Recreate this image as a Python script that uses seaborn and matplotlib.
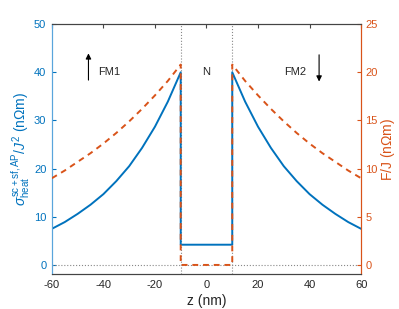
import pandas as pd
import matplotlib
matplotlib.use("Agg")
import matplotlib.pyplot as plt
import seaborn as sns

# valores (distancia desde la interfaz, nm)
dist = [0, 5, 10, 15, 20, 25, 30, 35, 40, 45, 50]
sigma_fm = [40.0, 33.9, 28.7, 24.3, 20.5, 17.4, 14.7, 12.5, 10.6, 8.9, 7.5]   # eje izquierdo
f_fm = [20.8, 19.1, 17.6, 16.2, 14.9, 13.7, 12.6, 11.6, 10.7, 9.8, 9.0]       # eje derecho
sigma_n = 4.2
f_n = 0.0
z_int = 10

# construir las curvas completas
z_left = [-(z_int + d) for d in dist][::-1]
z_right = [z_int + d for d in dist]
z = z_left + [-z_int, z_int] + z_right
sigma = sigma_fm[::-1] + [sigma_n, sigma_n] + sigma_fm
f = f_fm[::-1] + [f_n, f_n] + f_fm

df = pd.DataFrame({"z": z, "sigma": sigma, "F": f})

azul = "#0072BD"
naranja = "#D95319"

sns.set_style("white")
plt.rcParams["font.family"] = ["Liberation Sans", "DejaVu Sans"]
plt.rcParams["mathtext.fontset"] = "custom"
plt.rcParams["mathtext.rm"] = "Liberation Sans"
plt.rcParams["mathtext.it"] = "Liberation Sans:italic"
plt.rcParams["axes.unicode_minus"] = False

fig = plt.figure(figsize=(3.99, 3.09), dpi=100)
ax = fig.add_axes([0.130, 0.113, 0.775, 0.809])
ax2 = ax.twinx()

# lineas de referencia punteadas
for xv in (-z_int, z_int):
    ax.axvline(xv, color="#888888", ls=":", lw=0.8, zorder=1)
ax.axhline(0, color="#888888", ls=":", lw=0.8, zorder=1)

sns.lineplot(data=df, x="z", y="sigma", sort=False, estimator=None,
             ax=ax, color=azul, lw=1.4, zorder=3)
sns.lineplot(data=df, x="z", y="F", sort=False, estimator=None,
             ax=ax2, color=naranja, lw=1.4, zorder=4)
ax2.lines[-1].set_linestyle((0, (3, 2.5)))

ax.set_xlim(-60, 60)
ax.set_ylim(-1.9, 50)
ax2.set_ylim(-0.95, 25)
ax.set_xticks(range(-60, 61, 20))
ax.set_yticks(range(0, 51, 10))
ax2.set_yticks(range(0, 26, 5))

ax.set_xlabel("z (nm)", fontsize=10, labelpad=3)
ax.set_ylabel(r"$\sigma^{\mathrm{sc+sf,AP}}_{\mathrm{heat}}/J^2$ (n$\Omega$m)", color=azul, fontsize=10, labelpad=1)
ax2.set_ylabel(r"F/J (n$\Omega$m)", color=naranja, fontsize=10, labelpad=1)

ax.tick_params(axis="x", direction="in", top=True, labelsize=8, length=3, color="#444444", pad=4)
ax.tick_params(axis="y", direction="in", colors=azul, labelsize=8, length=3, pad=4)
ax2.tick_params(axis="y", direction="in", colors=naranja, labelsize=8, length=3, pad=3)

for a in (ax, ax2):
    a.spines["top"].set_color("#444444")
    a.spines["bottom"].set_color("#444444")
    a.spines["left"].set_color("#5AA5DC")
    a.spines["right"].set_color(naranja)
    for s in a.spines.values():
        s.set_linewidth(0.8)

# etiquetas de las regiones y flechas de magnetizacion
ax.text(-42, 40, "FM1", fontsize=8, va="center", ha="left")
ax.text(0, 40, "N", fontsize=8, va="center", ha="center")
ax.text(30, 40, "FM2", fontsize=8, va="center", ha="left")
ax.annotate("", xy=(-45.8, 44.5), xytext=(-45.8, 37.8),
            arrowprops=dict(arrowstyle="-|>", color="black", lw=0.8, mutation_scale=8))
ax.annotate("", xy=(43.7, 37.5), xytext=(43.7, 44.2),
            arrowprops=dict(arrowstyle="-|>", color="black", lw=0.8, mutation_scale=8))

plt.savefig("out.png", dpi=100)
